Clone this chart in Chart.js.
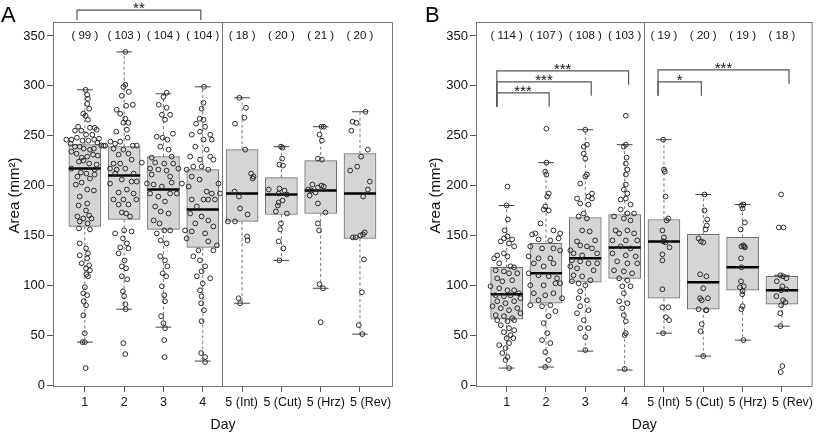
<!DOCTYPE html>
<html>
<head>
<meta charset="utf-8">
<script src="https://cdn.jsdelivr.net/npm/chart.js@4.4.1/dist/chart.umd.min.js"></script>
<style>
  body { margin: 0; background: #fff; }
  .wrap { display: flex; width: 816px; height: 434px; }
  .panel { position: relative; width: 408px; height: 434px; }
</style>
</head>
<body>
<div class="wrap">
  <div class="panel"><canvas id="chartA"></canvas></div>
  <div class="panel"><canvas id="chartB"></canvas></div>
</div>
<script>
// categories and ticks
const days = ['1', '2', '3', '4', '5 (Int)', '5 (Cut)', '5 (Hrz)', '5 (Rev)'];
const yTicks = [0, 50, 100, 150, 200, 250, 300, 350];

// group sizes
const countsA = [99, 103, 104, 104, 18, 20, 21, 20];
const countsB = [114, 107, 108, 103, 19, 20, 19, 18];

// box stats, panel A
const lowA = [43, 76, 58, 24, 82, 125, 97, 51];
const q1A = [159, 166, 156, 138, 164, 171, 172, 147];
const medA = [217, 210, 196, 176, 192, 191, 195, 192];
const q3A = [241, 239, 229, 216, 236, 208, 225, 232];
const highA = [296, 334, 292, 299, 288, 239, 259, 274];

// box stats, panel B
const lowB = [17, 18, 34, 15, 52, 29, 45, 59];
const q1B = [66, 82, 103, 107, 87, 76, 95, 81];
const medB = [91, 112, 127, 138, 144, 103, 118, 95];
const q3B = [118, 142, 168, 171, 166, 151, 148, 109];
const highB = [180, 223, 256, 241, 246, 191, 181, 110];

// individual leaves: [jitter, area]
const ptsA1 = [[0.02,296],[0.06,291],[0.08,287],[0.06,282],[0.11,277],[-0.04,272],[0.02,270],[0.08,266],[-0.17,259],[-0.09,255],[0.13,258],[0.25,258],[0.30,256],[-0.25,255],[0.03,251],[0.19,251],[-0.47,246],[-0.34,246],[-0.20,248],[-0.06,245],[0.09,245],[0.24,246],[0.36,247],[0.32,243],[0.42,240],[0.48,240],[0.52,240],[-0.36,242],[-0.25,239],[-0.13,239],[-0.03,237],[0.13,236],[0.23,237],[-0.34,234],[-0.21,232],[-0.08,228],[0.06,229],[0.21,231],[0.33,230],[-0.15,224],[-0.04,225],[0.11,222],[0.30,221],[-0.34,217],[-0.10,213],[0.04,212],[0.25,216],[0.25,211],[-0.19,209],[0.13,207],[-0.08,203],[-0.23,201],[0.06,196],[0.23,195],[-0.13,189],[0.06,182],[-0.16,180],[0.03,175],[0.11,170],[-0.19,169],[-0.04,167],[0.17,167],[-0.13,164],[0.07,162],[-0.15,157],[0.13,156],[-0.13,142],[0.03,137],[0.08,132],[-0.13,130],[0.06,127],[-0.08,122],[0.11,120],[0.03,117],[0.13,115],[0.04,111],[0.08,109],[0,98],[-0.04,92],[0.06,90],[-0.03,84],[0.03,80],[-0.04,70],[0,52],[0,43],[-0.06,43],[0.02,17]];
const ptsA2 = [[0.03,334],[0.03,301],[-0.02,299],[0.12,294],[-0.06,290],[0.22,281],[0.05,280],[-0.19,276],[-0.10,272],[0.03,267],[-0.02,263],[0.11,263],[-0.20,254],[0.07,256],[-0.35,244],[-0.23,242],[-0.10,244],[0.09,248],[0.22,240],[0.32,240],[0.45,223],[-0.27,237],[-0.02,236],[-0.14,231],[0.11,232],[-0.27,222],[-0.10,222],[0.19,226],[-0.36,217],[-0.19,216],[0.03,217],[0.24,212],[-0.23,212],[-0.36,202],[-0.06,206],[0.19,204],[0.32,204],[0.07,196],[-0.14,193],[0.24,192],[-0.27,186],[-0.02,186],[0.31,186],[-0.14,181],[0.11,181],[-0.06,173],[0.05,172],[0.15,169],[-0.23,152],[0,155],[0.19,154],[-0.03,147],[0.07,142],[-0.10,138],[0.11,137],[-0.14,132],[0.01,125],[-0.06,119],[0.05,117],[-0.06,109],[0.08,106],[-0.03,94],[0,89],[0.03,81],[0.04,76],[-0.02,42],[0.03,31]];
const ptsA3 = [[0.08,293],[0,289],[-0.12,281],[0.08,278],[-0.04,271],[0.17,271],[0.04,266],[0.24,252],[-0.02,248],[0.10,246],[-0.17,249],[-0.08,239],[0.13,236],[0.21,229],[-0.30,228],[-0.21,223],[0.02,222],[0.25,222],[-0.34,217],[-0.13,216],[0.08,215],[-0.30,211],[0.17,209],[0.38,217],[-0.42,202],[-0.25,201],[-0.04,199],[0.21,203],[0.47,202],[-0.34,192],[-0.13,189],[0.17,192],[0.34,192],[0.04,184],[-0.21,179],[-0.07,174],[0.13,172],[-0.25,165],[-0.10,162],[0.02,155],[-0.17,152],[0.17,155],[-0.07,145],[0.08,142],[-0.08,129],[0.04,125],[0.10,119],[-0.02,112],[0.07,109],[-0.04,99],[0.02,90],[0.04,84],[-0.06,69],[0,62],[0.04,57],[0.02,45],[0.03,28]];
const ptsA4 = [[0.03,299],[0.02,283],[-0.03,277],[-0.08,267],[0.02,266],[-0.17,262],[0.06,259],[-0.07,254],[0.19,251],[-0.28,251],[0.02,246],[0.23,246],[-0.19,239],[0.10,236],[0.19,229],[-0.32,229],[-0.07,226],[0.27,226],[-0.24,219],[-0.03,219],[-0.41,216],[0.14,216],[-0.28,209],[-0.08,206],[0.40,202],[-0.36,199],[0.10,194],[0.23,192],[0.44,192],[-0.28,186],[0.02,186],[0.14,186],[0.31,186],[-0.15,179],[-0.32,172],[-0.03,169],[0.14,165],[-0.19,162],[0.27,159],[-0.45,155],[-0.28,154],[0.06,152],[-0.41,147],[0.14,144],[0.36,140],[-0.11,135],[0.27,135],[-0.24,129],[-0.07,125],[0.06,119],[-0.03,114],[0.19,107],[-0.15,109],[0,102],[-0.07,95],[-0.03,89],[-0.04,82],[0.03,75],[-0.03,64],[-0.04,32],[0.06,28],[0.06,23]];
const ptsA5 = [[-0.07,288],[0.10,278],[0.06,268],[-0.18,262],[0.08,236],[0.23,212],[0.29,209],[0.27,207],[-0.19,194],[-0.08,189],[-0.05,177],[0.14,171],[-0.36,164],[-0.18,164],[0.13,149],[0.14,145],[-0.09,87],[-0.05,82]];
const ptsA6 = [[-0.01,239],[0.03,238],[0.02,227],[-0.05,221],[0.04,220],[-0.32,196],[-0.05,197],[0.08,195],[-0.07,192],[0.14,191],[0.03,185],[-0.07,183],[-0.09,180],[-0.14,174],[0.14,172],[-0.01,162],[-0.03,156],[-0.07,144],[0.05,137],[-0.05,125]];
const ptsA7 = [[0.02,259],[0.08,259],[-0.03,251],[0.03,245],[-0.07,227],[0.03,226],[-0.21,201],[-0.07,198],[0.08,199],[0.02,200],[-0.32,196],[-0.24,195],[-0.13,193],[-0.28,190],[-0.07,182],[0.12,173],[-0.07,162],[-0.04,155],[-0.03,101],[0.06,97],[0,63]];
const ptsA8 = [[0.14,274],[-0.19,264],[-0.09,263],[-0.22,255],[0.20,236],[0.03,229],[-0.07,219],[-0.25,215],[0.25,204],[0.20,196],[0.08,189],[0.12,153],[0.08,151],[0.01,150],[-0.11,148],[-0.18,148],[0.10,126],[0.05,93],[-0.03,60],[0.06,51]];

const ptsB1 = [[0.02,199],[0,180],[0.03,166],[-0.05,155],[0.02,149],[-0.07,147],[0.14,146],[-0.15,144],[0.06,142],[0.19,139],[-0.24,130],[-0.07,132],[-0.32,127],[0.02,129],[-0.19,122],[0.10,119],[0.19,118],[-0.28,115],[-0.07,114],[0.06,112],[0.27,112],[-0.24,107],[-0.11,104],[0.14,105],[-0.41,99],[-0.19,97],[0.02,95],[0.19,95],[0.31,92],[-0.28,90],[-0.07,89],[0.10,90],[0.35,87],[-0.24,84],[-0.03,82],[0.19,84],[-0.36,79],[-0.15,77],[0.06,75],[0.27,77],[-0.28,70],[-0.07,69],[0.14,67],[0.35,72],[-0.24,65],[0.02,64],[0.19,65],[-0.15,60],[0.06,57],[-0.07,53],[0.19,55],[0.10,50],[0,47],[0.17,47],[-0.19,40],[0.06,42],[-0.03,37],[-0.11,32],[0.02,28],[-0.03,25],[0.06,17]];
const ptsB2 = [[0.01,257],[0.01,223],[-0.02,214],[0.01,211],[0.07,192],[0.03,189],[-0.02,179],[-0.06,176],[0.07,175],[-0.14,162],[0.19,155],[-0.27,152],[0.36,152],[-0.35,151],[0.32,147],[-0.19,146],[0.11,145],[-0.40,139],[-0.10,137],[0.19,137],[-0.44,129],[-0.19,127],[0.11,127],[0.36,135],[-0.31,122],[-0.06,119],[0.19,122],[-0.44,112],[-0.19,110],[0.07,109],[0.28,107],[-0.40,100],[-0.06,100],[0.24,102],[0.36,102],[-0.31,92],[-0.02,90],[0.19,92],[-0.19,85],[0.41,87],[-0.40,80],[-0.10,79],[0.11,80],[0.24,74],[0.07,69],[-0.06,62],[0.03,52],[-0.10,45],[0.11,42],[-0.02,33],[0.07,25],[-0.02,18]];
const ptsB3 = [[0,256],[0.04,241],[-0.04,239],[-0.04,232],[0,227],[0.04,211],[0,209],[-0.13,202],[0.17,192],[0.08,189],[-0.21,187],[0.17,187],[-0.13,182],[0.08,181],[-0.04,172],[-0.17,169],[0.04,167],[-0.08,155],[0.11,154],[-0.21,144],[0.25,145],[-0.13,140],[0.04,139],[-0.38,135],[0.17,137],[-0.30,132],[-0.08,130],[0.30,132],[-0.34,125],[-0.13,124],[0.08,122],[0.30,122],[-0.38,119],[-0.21,117],[0.21,115],[-0.30,110],[-0.08,109],[0.13,105],[-0.34,104],[-0.17,102],[0,100],[-0.13,94],[-0.17,87],[0.04,85],[-0.13,79],[0.08,75],[-0.21,72],[-0.04,65],[-0.13,57],[0.08,57],[0,48],[0,35]];
const ptsB4 = [[0.03,270],[0.03,241],[-0.02,239],[0.05,228],[0.03,222],[0.07,216],[0.03,211],[0.03,201],[-0.02,196],[0.07,192],[0.03,187],[-0.10,186],[0.15,181],[-0.10,176],[0.07,172],[0.24,172],[-0.27,169],[-0.02,167],[0.15,165],[-0.23,155],[0.07,155],[0.24,152],[-0.14,152],[-0.31,145],[0.03,145],[0.32,145],[-0.10,139],[0.15,137],[-0.31,132],[0.03,130],[0.28,129],[-0.19,124],[0.07,122],[0.32,122],[-0.27,115],[-0.02,114],[0.19,112],[-0.14,107],[0.07,105],[-0.06,99],[0.15,99],[-0.02,92],[-0.14,84],[0.07,82],[-0.06,77],[-0.02,70],[0.03,64],[0,50],[0.03,52],[0,16]];
const ptsB5 = [[-0.02,246],[0,216],[0.02,214],[0.04,189],[0.11,167],[0.07,165],[-0.04,155],[0,148],[-0.02,144],[0.04,143],[0.14,138],[-0.04,131],[-0.04,125],[-0.04,96],[-0.04,78],[0.11,78],[0.05,68],[0.13,65],[-0.02,52]];
const ptsB6 = [[0.03,191],[0.03,175],[0.10,166],[0.09,160],[0.06,156],[-0.12,147],[-0.06,144],[0,143],[-0.08,111],[0.08,109],[0,97],[-0.08,87],[0.12,87],[-0.04,85],[-0.12,76],[0.07,75],[0.08,75],[-0.04,61],[-0.07,54],[0,29]];
const ptsB7 = [[0.02,181],[-0.03,180],[0,177],[0.06,163],[-0.05,156],[0.02,140],[0.06,138],[-0.03,139],[0.04,139],[-0.04,127],[-0.03,118],[-0.04,104],[0.03,99],[-0.07,98],[0,94],[-0.01,91],[0,79],[-0.03,76],[0.02,45]];
const ptsB8 = [[-0.02,191],[-0.08,158],[0.04,158],[-0.04,110],[0.03,109],[0.11,107],[-0.13,104],[0.01,99],[0.11,96],[-0.02,95],[-0.14,89],[0.03,85],[0.09,83],[-0.02,80],[-0.04,72],[-0.04,59],[0.01,19],[-0.03,13]];

// significance brackets (category positions and area levels)
const sigA = [{x1: -0.2, x2: 2.95, top: 376, leftEnd: 366, rightEnd: 366, label: '**'}];
const sigB = [
  {x1: -0.25, x2: 1.08, top: 293, leftEnd: 279, rightEnd: 279, label: '***'},
  {x1: -0.25, x2: 2.15, top: 304, leftEnd: 279, rightEnd: 290, label: '***'},
  {x1: -0.25, x2: 3.1, top: 315, leftEnd: 279, rightEnd: 301, label: '***'},
  {x1: 3.85, x2: 4.95, top: 304, leftEnd: 290, rightEnd: 290, label: '*'},
  {x1: 3.85, x2: 7.18, top: 316, leftEnd: 290, rightEnd: 302, label: '***'}
];

const FONT = "'Liberation Sans', Arial, sans-serif";
// the day-5 labels sit a little right of their ticks in the original
const labelNudge = [0, 0, 0, 0, -0.01, 0.03, 0.13, 0.27];

// whiskers, caps, medians, frame, labels, counts, brackets, panel letter
const boxExtras = {
  id: 'boxExtras',
  afterDatasetDraw(chart, args, o) {
    if (args.index !== 1) return;
    const {ctx, scales: {x, y}} = chart;
    const bars = args.meta.data;
    const capHalf = x.getPixelForValue(0.2) - x.getPixelForValue(0);
    ctx.save();
    o.med.forEach((m, i) => {
      const cx = x.getPixelForValue(i);
      ctx.strokeStyle = '#777';
      ctx.lineWidth = 1;
      ctx.setLineDash([3, 2.5]);
      ctx.beginPath();
      ctx.moveTo(cx, y.getPixelForValue(o.q3[i]));
      ctx.lineTo(cx, y.getPixelForValue(o.high[i]));
      ctx.moveTo(cx, y.getPixelForValue(o.q1[i]));
      ctx.lineTo(cx, y.getPixelForValue(o.low[i]));
      ctx.stroke();
      ctx.setLineDash([]);
      ctx.strokeStyle = '#444';
      ctx.beginPath();
      [o.low[i], o.high[i]].forEach(v => {
        const py = y.getPixelForValue(v);
        ctx.moveTo(cx - capHalf, py);
        ctx.lineTo(cx + capHalf, py);
      });
      ctx.stroke();
      const half = bars[i].width / 2;
      const my = y.getPixelForValue(m);
      ctx.strokeStyle = '#000';
      ctx.lineWidth = 2.5;
      ctx.beginPath();
      ctx.moveTo(cx - half, my);
      ctx.lineTo(cx + half, my);
      ctx.stroke();
    });
    ctx.restore();
  },
  afterDraw(chart, args, o) {
    const {ctx, chartArea: a, scales: {x, y}} = chart;
    ctx.save();
    ctx.strokeStyle = '#777';
    ctx.lineWidth = 1;
    ctx.strokeRect(a.left + 0.5, a.top + 0.5, a.right - a.left - 1, a.bottom - a.top);
    const dx = Math.round(x.getPixelForValue(3.5)) + 0.5;
    ctx.beginPath();
    ctx.moveTo(dx, a.top);
    ctx.lineTo(dx, a.bottom);
    ctx.stroke();

    ctx.fillStyle = '#111';
    ctx.textAlign = 'center';
    ctx.textBaseline = 'middle';
    ctx.font = '12.5px ' + FONT;
    days.forEach((d, i) => ctx.fillText(d, x.getPixelForValue(i + labelNudge[i]), a.bottom + 17));

    ctx.save();
    ctx.translate(o.titleX, y.getPixelForValue(190));
    ctx.rotate(-Math.PI / 2);
    ctx.font = '15px ' + FONT;
    ctx.fillText('Area (mm²)', 0, 0);
    ctx.restore();

    ctx.font = '11.5px ' + FONT;
    o.counts.forEach((n, i) => {
      ctx.fillText('( ' + n + ' )', x.getPixelForValue(i), y.getPixelForValue(350));
    });

    ctx.strokeStyle = '#555';
    ctx.lineWidth = 1.2;
    ctx.font = '15px ' + FONT;
    ctx.textBaseline = 'alphabetic';
    o.sig.forEach(s => {
      const x1 = x.getPixelForValue(s.x1), x2 = x.getPixelForValue(s.x2);
      const yt = y.getPixelForValue(s.top);
      ctx.beginPath();
      ctx.moveTo(x1, y.getPixelForValue(s.leftEnd));
      ctx.lineTo(x1, yt);
      ctx.lineTo(x2, yt);
      ctx.lineTo(x2, y.getPixelForValue(s.rightEnd));
      ctx.stroke();
      ctx.fillText(s.label, (x1 + x2) / 2, yt - 6 + 0.58 * 15);
    });

    ctx.fillStyle = '#000';
    ctx.font = '22px ' + FONT;
    ctx.textAlign = 'left';
    ctx.fillText(o.letter, o.letterX, 22);
    ctx.restore();
  }
};

function makeChart(id, low, q1, med, q3, high, groups, counts, sig, opt) {
  const points = [];
  groups.forEach((g, i) => g.forEach(([j, v]) => points.push({x: i + j, y: v})));
  const boxes = q1.map((v, i) => ({x: i, y: [v, q3[i]]}));
  return new Chart(document.getElementById(id), {
    type: 'bar',
    data: {
      datasets: [
        {
          type: 'scatter',
          data: points,
          order: 1,
          pointRadius: 2.4,
          pointBorderWidth: 1,
          borderColor: '#2a2a2a',
          backgroundColor: 'rgba(0,0,0,0)',
          pointHoverRadius: 2.4
        },
        {
          type: 'bar',
          data: boxes,
          order: 2,
          backgroundColor: '#d5d5d5',
          borderColor: '#6e6e6e',
          borderWidth: 1,
          borderSkipped: false,
          barThickness: 32
        }
      ]
    },
    options: {
      responsive: true,
      maintainAspectRatio: false,
      animation: false,
      layout: {padding: {top: 22, right: opt.padRight, left: 0, bottom: 0}},
      plugins: {
        legend: {display: false},
        tooltip: {enabled: false},
        boxExtras: {low, q1, med, q3, high, counts, sig, letter: opt.letter, letterX: opt.letterX, titleX: opt.titleX}
      },
      scales: {
        x: {
          type: 'linear',
          offset: false,
          min: opt.xMin,
          max: opt.xMax,
          afterBuildTicks: s => { s.ticks = days.map((d, i) => ({value: i})); },
          afterFit: s => { s.height = 48; },
          ticks: {display: false},
          grid: {display: true, offset: false, drawOnChartArea: false, drawTicks: true, tickLength: 6, tickColor: '#555'},
          border: {display: false},
          title: {display: true, text: 'Day', color: '#111', font: {family: FONT, size: 14}, padding: {top: 0, bottom: 0}}
        },
        y: {
          min: -1,
          max: 364,
          afterBuildTicks: s => { s.ticks = yTicks.map(v => ({value: v})); },
          afterFit: s => { s.width = opt.yWidth; },
          ticks: {padding: 2, color: '#111', font: {family: FONT, size: 13}},
          grid: {display: true, drawOnChartArea: false, drawTicks: true, tickLength: 6, tickColor: '#555'},
          border: {display: false}
        }
      }
    },
    plugins: [boxExtras]
  });
}

makeChart('chartA', lowA, q1A, medA, q3A, highA,
  [ptsA1, ptsA2, ptsA3, ptsA4, ptsA5, ptsA6, ptsA7, ptsA8], countsA, sigA,
  {xMin: -0.81, xMax: 7.84, padRight: 15, yWidth: 53, titleX: 15, letter: 'A', letterX: 1});
makeChart('chartB', lowB, q1B, medB, q3B, highB,
  [ptsB1, ptsB2, ptsB3, ptsB4, ptsB5, ptsB6, ptsB7, ptsB8], countsB, sigB,
  {xMin: -0.78, xMax: 7.78, padRight: 1, yWidth: 68, titleX: 28, letter: 'B', letterX: 17});
</script>
</body>
</html>
